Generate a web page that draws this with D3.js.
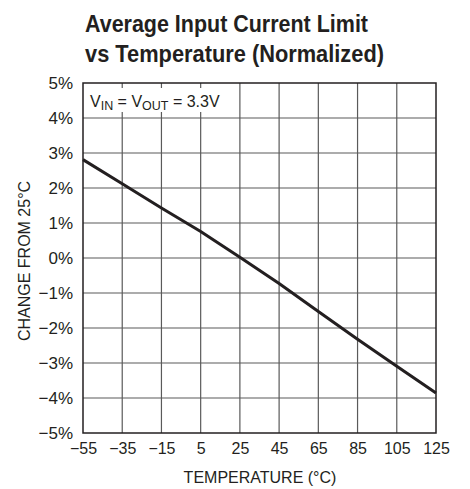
<!DOCTYPE html>
<html>
<head>
<meta charset="utf-8">
<script src="https://cdn.jsdelivr.net/npm/d3@7"></script>
<style>
  html, body { margin: 0; padding: 0; background: #fff; }
  svg text { font-family: "Liberation Sans", Arial, sans-serif; fill: #231f20; }
</style>
</head>
<body>
<svg id="chart" width="470" height="489"></svg>
<script>
// (percent change vs 25°C)
const temps = [-55, -35, -15, 5, 25, 45, 65, 85, 105, 125];
const change = [2.81, 2.12, 1.43, 0.76, 0.02, -0.73, -1.53, -2.32, -3.09, -3.86];

const xTicks = [-55, -35, -15, 5, 25, 45, 65, 85, 105, 125];
const yTicks = [-5, -4, -3, -2, -1, 0, 1, 2, 3, 4, 5];

const titleLines = ['Average Input Current Limit', 'vs Temperature (Normalized)'];
const titleWidths = [283, 299];   // condensed face, so squeeze to the measured widths

const plot = { left: 83, right: 436, top: 83, bottom: 433 };

const svg = d3.select('#chart');
const x = d3.scaleLinear().domain([-55, 125]).range([plot.left, plot.right]);
const y = d3.scaleLinear().domain([-5, 5]).range([plot.bottom, plot.top]);

// title
svg.selectAll('text.title').data(titleLines).enter().append('text')
  .attr('class', 'title')
  .attr('x', 85)
  .attr('y', (d, i) => 32 + i * 30)
  .attr('textLength', (d, i) => titleWidths[i])
  .attr('lengthAdjust', 'spacingAndGlyphs')
  .style('font-size', '24px').style('font-weight', 'bold')
  .text(d => d);

// grid
const grid = svg.append('g').attr('class', 'grid')
  .attr('stroke', '#5a5a5a').attr('stroke-width', 1.2);
grid.selectAll('line.v').data(xTicks.slice(1, -1)).enter().append('line')
  .attr('x1', d => x(d)).attr('x2', d => x(d))
  .attr('y1', plot.top).attr('y2', plot.bottom);
grid.selectAll('line.h').data(yTicks.slice(1, -1)).enter().append('line')
  .attr('x1', plot.left).attr('x2', plot.right)
  .attr('y1', d => y(d)).attr('y2', d => y(d));

// white box behind the condition label
svg.append('rect')
  .attr('x', plot.left + 1.5).attr('y', plot.top + 5)
  .attr('width', 143).attr('height', 24)
  .attr('fill', '#fff');

const note = svg.append('text').attr('x', 90).attr('y', 107).style('font-size', '16px');
note.append('tspan').text('V');
note.append('tspan').attr('dy', 3).style('font-size', '12.5px').text('IN');
note.append('tspan').attr('dy', -3).text(' = V');
note.append('tspan').attr('dy', 3).style('font-size', '12.5px').text('OUT');
note.append('tspan').attr('dy', -3).text(' = 3.3V');

// border
svg.append('rect')
  .attr('x', plot.left).attr('y', plot.top)
  .attr('width', plot.right - plot.left).attr('height', plot.bottom - plot.top)
  .attr('fill', 'none').attr('stroke', '#231f20').attr('stroke-width', 1.5);

// curve
const line = d3.line().x((d, i) => x(temps[i])).y(d => y(d));
svg.append('path')
  .datum(change)
  .attr('d', line)
  .attr('fill', 'none')
  .attr('stroke', '#231f20')
  .attr('stroke-width', 3);

// axes: labels only, the grid is drawn above
const fmtMinus = v => (v < 0 ? '\u2212' + Math.abs(v) : '' + v);

const xAxis = svg.append('g')
  .attr('transform', `translate(0,${plot.bottom})`)
  .call(d3.axisBottom(x).tickValues(xTicks).tickSize(0).tickPadding(10).tickFormat(fmtMinus));
xAxis.select('.domain').remove();
xAxis.selectAll('text').style('font-size', '16px').attr('font-family', null);

const yAxis = svg.append('g')
  .attr('transform', `translate(${plot.left},0)`)
  .call(d3.axisLeft(y).tickValues(yTicks).tickSize(0).tickPadding(10).tickFormat(v => fmtMinus(v) + '%'));
yAxis.select('.domain').remove();
yAxis.selectAll('text').style('font-size', '17px').attr('font-family', null);

svg.append('text')
  .attr('x', 260).attr('y', 483)
  .attr('text-anchor', 'middle')
  .style('font-size', '16px')
  .text('TEMPERATURE (\u00b0C)');

svg.append('text')
  .attr('transform', 'translate(30,261) rotate(-90)')
  .attr('text-anchor', 'middle')
  .style('font-size', '16px')
  .text('CHANGE FROM 25\u00b0C');
</script>
</body>
</html>
